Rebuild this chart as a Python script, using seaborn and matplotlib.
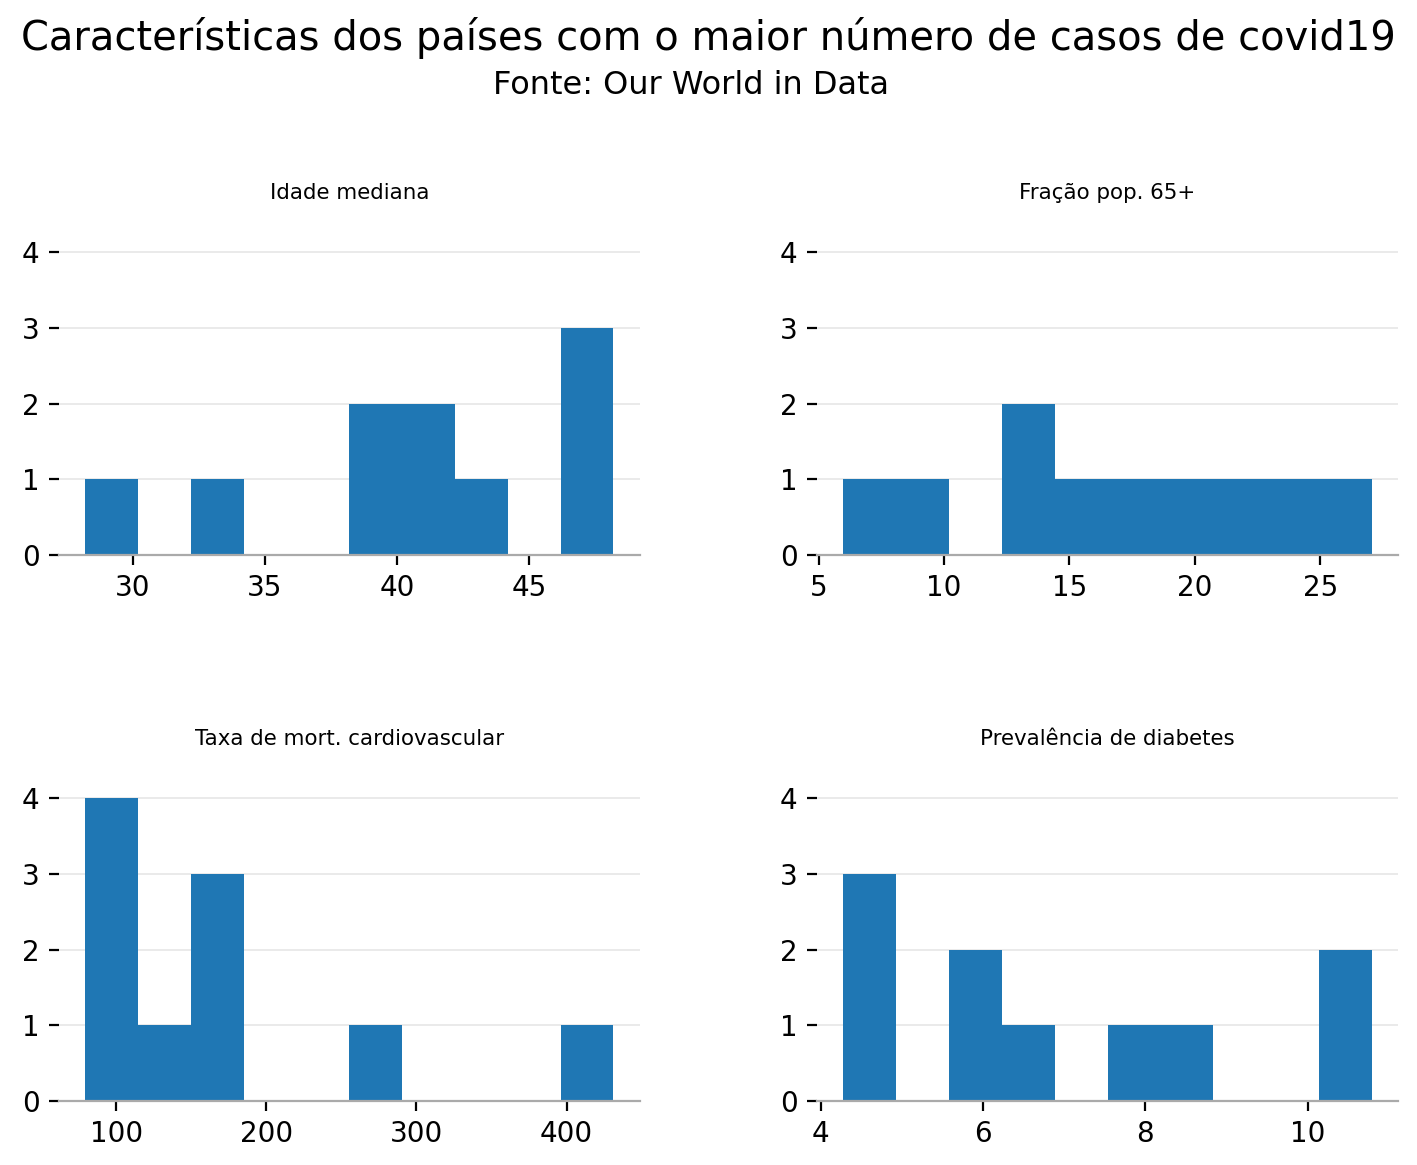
import numpy as np
import pandas as pd
import seaborn as sns
import matplotlib.pyplot as plt

# valores aproximados (10 países)
idade_mediana = [28.2, 33.0, 38.5, 39.6, 40.8, 42.0, 43.0, 46.6, 47.9, 48.2]
fracao_65 = [5.99, 8.55, 13.0, 14.18, 15.41, 18.52, 19.72, 21.45, 23.02, 27.05]
mort_cardio = [79.37, 86.06, 105.6, 113.15, 122.1, 151.1, 166.1, 178.0, 282.3, 431.3]
diabetes = [4.28, 4.29, 4.77, 5.98, 6.18, 6.35, 7.80, 8.31, 10.39, 10.79]

titulos = ["Idade mediana", "Fração pop. 65+",
           "Taxa de mort. cardiovascular", "Prevalência de diabetes"]
series = [idade_mediana, fracao_65, mort_cardio, diabetes]

df = pd.DataFrame(dict(zip(titulos, series)))

fig, axes = plt.subplots(2, 2, figsize=(7.085, 5.825), dpi=200)
plt.subplots_adjust(left=0.0416, right=0.9866, bottom=0.0549, top=0.8094,
                    wspace=0.305, hspace=0.64)

for ax, col in zip(axes.flat, titulos):
    sns.histplot(data=df, x=col, bins=10, ax=ax, color="#1f77b4",
                 alpha=1, linewidth=0, zorder=2)
    ax.set_title(col, fontsize=7.7, pad=8.2)
    ax.set_xlabel("")
    ax.set_ylabel("")
    ax.set_ylim(0, 4.4)
    ax.set_yticks([0, 1, 2, 3, 4])
    ax.grid(axis="y", color="#e6e6e6", linewidth=0.6, zorder=0)
    ax.set_axisbelow(True)
    for s in ["top", "right", "left"]:
        ax.spines[s].set_visible(False)
    ax.spines["bottom"].set_color("#aaaaaa")
    ax.spines["bottom"].set_zorder(3)
    ax.tick_params(labelsize=10)

fig.text(0.5, 0.967, "Características dos países com o maior número de casos de covid19",
         ha="center", va="center", fontsize=14.4)
fig.text(0.488, 0.927, "Fonte: Our World in Data", ha="center", va="center", fontsize=11.5)

fig.savefig("out.png", dpi=200)
